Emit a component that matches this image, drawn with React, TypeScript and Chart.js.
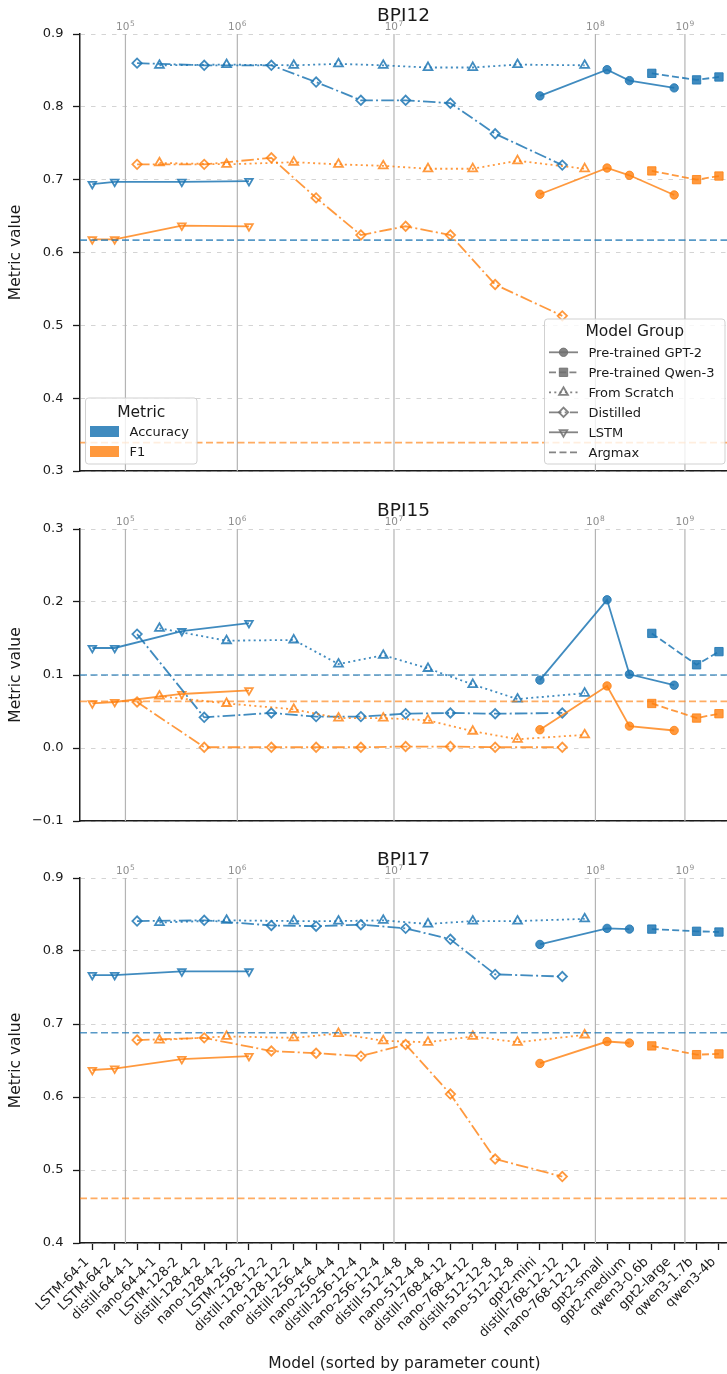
import React, { useEffect, useRef } from 'react';
import { Chart, registerables } from 'chart.js';

Chart.register(...registerables);

const FONT = '"DejaVu Sans", "Liberation Sans", sans-serif';

// ---------------- categories ----------------
const MODELS = [
  'LSTM-64-1', 'LSTM-64-2', 'distill-64-4-1', 'nano-64-4-1', 'LSTM-128-2', 'distill-128-4-2',
  'nano-128-4-2', 'LSTM-256-2', 'distill-128-12-2', 'nano-128-12-2', 'distill-256-4-4',
  'nano-256-4-4', 'distill-256-12-4', 'nano-256-12-4', 'distill-512-4-8', 'nano-512-4-8',
  'distill-768-4-12', 'nano-768-4-12', 'distill-512-12-8', 'nano-512-12-8', 'gpt2-mini',
  'distill-768-12-12', 'nano-768-12-12', 'gpt2-small', 'gpt2-medium', 'qwen3-0.6b',
  'gpt2-large', 'qwen3-1.7b', 'qwen3-4b',
];

const GPT2_MODELS = ['gpt2-mini', 'gpt2-small', 'gpt2-medium', 'gpt2-large'];
const QWEN_MODELS = ['qwen3-0.6b', 'qwen3-1.7b', 'qwen3-4b'];
const SCRATCH_MODELS = ['nano-64-4-1', 'nano-128-4-2', 'nano-128-12-2', 'nano-256-4-4', 'nano-256-12-4',
  'nano-512-4-8', 'nano-768-4-12', 'nano-512-12-8', 'nano-768-12-12'];
const DISTILL_MODELS = ['distill-64-4-1', 'distill-128-4-2', 'distill-128-12-2', 'distill-256-4-4',
  'distill-256-12-4', 'distill-512-4-8', 'distill-768-4-12', 'distill-512-12-8', 'distill-768-12-12'];
const LSTM_MODELS = ['LSTM-64-1', 'LSTM-64-2', 'LSTM-128-2', 'LSTM-256-2'];

// ---------------- BPI12 ----------------
const BPI12_GPT2_ACC = [0.815, 0.851, 0.836, 0.826];
const BPI12_GPT2_F1 = [0.680, 0.716, 0.706, 0.679];
const BPI12_QWEN_ACC = [0.846, 0.837, 0.841];
const BPI12_QWEN_F1 = [0.712, 0.700, 0.705];
const BPI12_SCRATCH_ACC = [0.857, 0.858, 0.857, 0.859, 0.857, 0.854, 0.854, 0.858, 0.857];
const BPI12_SCRATCH_F1 = [0.723, 0.721, 0.724, 0.721, 0.719, 0.715, 0.715, 0.726, 0.715];
const BPI12_DISTILL_ACC = [0.860, 0.857, 0.857, 0.834, 0.809, 0.809, 0.805, 0.763, 0.720];
const BPI12_DISTILL_F1 = [0.721, 0.721, 0.730, 0.675, 0.624, 0.636, 0.624, 0.556, 0.513];
const BPI12_LSTM_ACC = [0.694, 0.697, 0.697, 0.698];
const BPI12_LSTM_F1 = [0.618, 0.618, 0.637, 0.636];
const BPI12_ARGMAX = [0.617, 0.339];
const BPI12_Y_TICKS = [0.3, 0.4, 0.5, 0.6, 0.7, 0.8, 0.9];

// ---------------- BPI15 ----------------
const BPI15_GPT2_ACC = [0.093, 0.203, 0.101, 0.086];
const BPI15_GPT2_F1 = [0.025, 0.085, 0.030, 0.024];
const BPI15_QWEN_ACC = [0.157, 0.114, 0.132];
const BPI15_QWEN_F1 = [0.061, 0.041, 0.047];
const BPI15_SCRATCH_ACC = [0.164, 0.147, 0.148, 0.115, 0.127, 0.109, 0.087, 0.067, 0.075];
const BPI15_SCRATCH_F1 = [0.071, 0.061, 0.053, 0.041, 0.041, 0.038, 0.023, 0.012, 0.018];
const BPI15_DISTILL_ACC = [0.156, 0.042, 0.048, 0.043, 0.043, 0.047, 0.048, 0.047, 0.048];
const BPI15_DISTILL_F1 = [0.063, 0.001, 0.001, 0.001, 0.001, 0.002, 0.002, 0.001, 0.001];
const BPI15_LSTM_ACC = [0.137, 0.137, 0.160, 0.171];
const BPI15_LSTM_F1 = [0.061, 0.063, 0.074, 0.079];
const BPI15_ARGMAX = [0.100, 0.064];
const BPI15_Y_TICKS = [-0.1, 0.0, 0.1, 0.2, 0.3];

// ---------------- BPI17 ----------------
const BPI17_GPT2_ACC = [0.809, 0.831, 0.830, null];
const BPI17_GPT2_F1 = [0.646, 0.676, 0.674, null];
const BPI17_QWEN_ACC = [0.830, 0.827, 0.826];
const BPI17_QWEN_F1 = [0.670, 0.658, 0.659];
const BPI17_SCRATCH_ACC = [0.839, 0.842, 0.841, 0.841, 0.842, 0.837, 0.841, 0.841, 0.844];
const BPI17_SCRATCH_F1 = [0.678, 0.683, 0.681, 0.687, 0.677, 0.675, 0.683, 0.675, 0.685];
const BPI17_DISTILL_ACC = [0.841, 0.842, 0.835, 0.834, 0.836, 0.831, 0.816, 0.768, 0.765];
const BPI17_DISTILL_F1 = [0.678, 0.681, 0.663, 0.660, 0.656, 0.672, 0.604, 0.515, 0.491];
const BPI17_LSTM_ACC = [0.767, 0.767, 0.772, 0.772];
const BPI17_LSTM_F1 = [0.637, 0.639, 0.652, 0.656];
const BPI17_ARGMAX = [0.688, 0.461];
const BPI17_Y_TICKS = [0.4, 0.5, 0.6, 0.7, 0.8, 0.9];

// ---------------- secondary (parameter count) axis ----------------
const DECADE_EXPONENTS = ['5', '6', '7', '8', '9'];
const DECADE_POSITIONS = [1.48, 6.48, 13.48, 22.48, 26.48];

const METRIC_LABELS = ['Accuracy', 'F1'];
const GROUP_LABELS = ['Pre-trained GPT-2', 'Pre-trained Qwen-3', 'From Scratch', 'Distilled', 'LSTM', 'Argmax'];

const X_MIN = -0.55;
const X_MAX = 28.36;

const METRIC_COLORS = ['rgba(31,119,180,0.85)', 'rgba(255,127,14,0.8)'];
const ARGMAX_COLORS = ['rgba(31,119,180,0.75)', 'rgba(255,127,14,0.65)'];
const LEGEND_GRAY = 'rgba(110,110,110,0.85)';
const TEXT = '#1a1a1a';

type Style = { point: string; radius: number; filled: boolean; dash: number[]; rotation: number };

const GROUP_KEYS = ['gpt2', 'qwen', 'scratch', 'distill', 'lstm'];
const GROUP_STYLES: Record<string, Style> = {
  gpt2: { point: 'circle', radius: 4.2, filled: true, dash: [], rotation: 0 },
  qwen: { point: 'rect', radius: 5.9, filled: true, dash: [7, 3.2], rotation: 0 },
  scratch: { point: 'triangle', radius: 5.1, filled: false, dash: [2, 3.3], rotation: 0 },
  distill: { point: 'rectRot', radius: 4.7, filled: false, dash: [12.5, 3.2, 2, 3.2], rotation: 0 },
  lstm: { point: 'triangle', radius: 4.4, filled: false, dash: [], rotation: 180 },
};
const ARGMAX_DASH = [7, 3.5];
const GROUP_MODELS: Record<string, string[]> = {
  gpt2: GPT2_MODELS, qwen: QWEN_MODELS, scratch: SCRATCH_MODELS, distill: DISTILL_MODELS, lstm: LSTM_MODELS,
};

type PanelData = Record<string, (number | null)[][]> & { argmax: number[] };

const BPI12_DATA = {
  gpt2: [BPI12_GPT2_ACC, BPI12_GPT2_F1], qwen: [BPI12_QWEN_ACC, BPI12_QWEN_F1],
  scratch: [BPI12_SCRATCH_ACC, BPI12_SCRATCH_F1], distill: [BPI12_DISTILL_ACC, BPI12_DISTILL_F1],
  lstm: [BPI12_LSTM_ACC, BPI12_LSTM_F1], argmax: BPI12_ARGMAX,
} as any as PanelData;
const BPI15_DATA = {
  gpt2: [BPI15_GPT2_ACC, BPI15_GPT2_F1], qwen: [BPI15_QWEN_ACC, BPI15_QWEN_F1],
  scratch: [BPI15_SCRATCH_ACC, BPI15_SCRATCH_F1], distill: [BPI15_DISTILL_ACC, BPI15_DISTILL_F1],
  lstm: [BPI15_LSTM_ACC, BPI15_LSTM_F1], argmax: BPI15_ARGMAX,
} as any as PanelData;
const BPI17_DATA = {
  gpt2: [BPI17_GPT2_ACC, BPI17_GPT2_F1], qwen: [BPI17_QWEN_ACC, BPI17_QWEN_F1],
  scratch: [BPI17_SCRATCH_ACC, BPI17_SCRATCH_F1], distill: [BPI17_DISTILL_ACC, BPI17_DISTILL_F1],
  lstm: [BPI17_LSTM_ACC, BPI17_LSTM_F1], argmax: BPI17_ARGMAX,
} as any as PanelData;

function buildDatasets(d: PanelData) {
  const ds: any[] = [];
  [0, 1].forEach((mi) => {
    ds.push({
      label: 'argmax-' + mi,
      data: [{ x: X_MIN, y: d.argmax[mi] }, { x: X_MAX, y: d.argmax[mi] }],
      borderColor: ARGMAX_COLORS[mi],
      borderWidth: 1.7,
      borderDash: ARGMAX_DASH,
      pointRadius: 0,
      fill: false,
    });
  });
  GROUP_KEYS.forEach((key) => {
    const st = GROUP_STYLES[key];
    const models = GROUP_MODELS[key];
    [0, 1].forEach((mi) => {
      const vals = d[key][mi];
      const color = METRIC_COLORS[mi];
      ds.push({
        label: key + '-' + mi,
        data: models.map((name, i) => ({ x: MODELS.indexOf(name), y: vals[i] ?? null })),
        borderColor: color,
        backgroundColor: color,
        borderWidth: 1.8,
        borderDash: st.dash,
        pointStyle: st.point,
        pointRadius: st.radius,
        pointRotation: st.rotation,
        pointBackgroundColor: st.filled ? color : 'rgba(0,0,0,0)',
        pointBorderColor: color,
        pointBorderWidth: st.filled ? 1 : 1.8,
        fill: false,
        tension: 0,
        spanGaps: false,
      });
    });
  });
  return ds;
}

function drawMarker(ctx: CanvasRenderingContext2D, st: Style, x: number, y: number, color: string) {
  ctx.save();
  ctx.setLineDash([]);
  ctx.strokeStyle = color;
  ctx.fillStyle = color;
  ctx.lineWidth = st.filled ? 1 : 1.8;
  const r = st.radius;
  ctx.beginPath();
  if (st.point === 'circle') {
    ctx.arc(x, y, r, 0, Math.PI * 2);
  } else if (st.point === 'rect') {
    const s = r * Math.SQRT1_2;
    ctx.rect(x - s, y - s, 2 * s, 2 * s);
  } else if (st.point === 'rectRot') {
    ctx.moveTo(x - r, y);
    ctx.lineTo(x, y - r);
    ctx.lineTo(x + r, y);
    ctx.lineTo(x, y + r);
    ctx.closePath();
  } else {
    let a = (st.rotation * Math.PI) / 180;
    for (let k = 0; k < 3; k++) {
      const px = x + Math.sin(a) * r;
      const py = y - Math.cos(a) * r;
      if (k === 0) ctx.moveTo(px, py); else ctx.lineTo(px, py);
      a += (2 * Math.PI) / 3;
    }
    ctx.closePath();
  }
  if (st.filled) ctx.fill();
  ctx.stroke();
  ctx.restore();
}

function roundRect(ctx: CanvasRenderingContext2D, x: number, y: number, w: number, h: number, r: number) {
  ctx.beginPath();
  ctx.moveTo(x + r, y);
  ctx.lineTo(x + w - r, y);
  ctx.quadraticCurveTo(x + w, y, x + w, y + r);
  ctx.lineTo(x + w, y + h - r);
  ctx.quadraticCurveTo(x + w, y + h, x + w - r, y + h);
  ctx.lineTo(x + r, y + h);
  ctx.quadraticCurveTo(x, y + h, x, y + h - r);
  ctx.lineTo(x, y + r);
  ctx.quadraticCurveTo(x, y, x + r, y);
  ctx.closePath();
}

function drawLegendBox(ctx: CanvasRenderingContext2D, x: number, y: number, w: number, h: number) {
  ctx.save();
  roundRect(ctx, x, y, w, h, 3);
  ctx.fillStyle = 'rgba(255,255,255,0.8)';
  ctx.fill();
  ctx.strokeStyle = 'rgba(204,204,204,0.9)';
  ctx.lineWidth = 1;
  ctx.stroke();
  ctx.restore();
}

const overlayPlugin = {
  id: 'overlay',
  beforeDatasetsDraw(chart: any) {
    const { ctx, chartArea, scales } = chart;
    const xs = scales.x;
    ctx.save();
    ctx.strokeStyle = '#b4b4b4';
    ctx.lineWidth = 1.2;
    ctx.setLineDash([]);
    DECADE_POSITIONS.forEach((p) => {
      const px = xs.getPixelForValue(p);
      ctx.beginPath();
      ctx.moveTo(px, chartArea.top);
      ctx.lineTo(px, chartArea.bottom);
      ctx.stroke();
    });
    ctx.restore();
  },
  afterDraw(chart: any, _args: any, opts: any) {
    const { ctx, chartArea, scales } = chart;
    const xs = scales.x;
    ctx.save();
    // decade labels
    ctx.fillStyle = '#8f8f8f';
    ctx.textAlign = 'left';
    ctx.textBaseline = 'alphabetic';
    DECADE_EXPONENTS.forEach((e, i) => {
      const px = xs.getPixelForValue(DECADE_POSITIONS[i]);
      ctx.font = '10.5px ' + FONT;
      const w1 = ctx.measureText('10').width;
      ctx.font = '7.5px ' + FONT;
      const w2 = ctx.measureText(e).width;
      const x0 = px - (w1 + w2 + 0.5) / 2;
      const base = chartArea.top - 3.6;
      ctx.font = '10.5px ' + FONT;
      ctx.fillText('10', x0, base);
      ctx.font = '7.5px ' + FONT;
      ctx.fillText(e, x0 + w1 + 0.5, base - 4.2);
    });
    // title
    ctx.fillStyle = TEXT;
    ctx.font = '18.5px ' + FONT;
    ctx.textAlign = 'center';
    ctx.fillText(opts.title, (chartArea.left + chartArea.right) / 2, chartArea.top - 13);
    // y label
    ctx.save();
    ctx.translate(19.5, (chartArea.top + chartArea.bottom) / 2);
    ctx.rotate(-Math.PI / 2);
    ctx.font = '15.5px ' + FONT;
    ctx.textAlign = 'center';
    ctx.fillText('Metric value', 0, 0);
    ctx.restore();
    // x label
    if (opts.bottomAxis) {
      ctx.font = '15.5px ' + FONT;
      ctx.textAlign = 'center';
      ctx.fillText('Model (sorted by parameter count)', (chartArea.left + chartArea.right) / 2 + 1, chart.height - 6);
    }
    // legends
    if (opts.legend) {
      // Metric legend
      const mx = chartArea.left + 5.5;
      const my = chartArea.bottom - 73;
      const mw = 111.5;
      const mh = 66;
      drawLegendBox(ctx, mx, my, mw, mh);
      ctx.fillStyle = TEXT;
      ctx.font = '15.5px ' + FONT;
      ctx.textAlign = 'center';
      ctx.fillText('Metric', mx + mw / 2, my + 19);
      ctx.textAlign = 'left';
      ctx.font = '13px ' + FONT;
      METRIC_LABELS.forEach((lab, i) => {
        const cy = my + 33.5 + 20 * i;
        ctx.fillStyle = METRIC_COLORS[i];
        ctx.fillRect(mx + 4.5, cy - 5.5, 29, 11);
        ctx.fillStyle = TEXT;
        ctx.fillText(lab, mx + 44, cy + 4.7);
      });
      // Model group legend
      const gw = 180.5;
      const gh = 145;
      const gx = chartArea.right - 2 - gw;
      const gy = chartArea.bottom - 152;
      drawLegendBox(ctx, gx, gy, gw, gh);
      ctx.fillStyle = TEXT;
      ctx.font = '15.5px ' + FONT;
      ctx.textAlign = 'center';
      ctx.fillText('Model Group', gx + gw / 2, gy + 17);
      ctx.textAlign = 'left';
      GROUP_LABELS.forEach((lab, i) => {
        const cy = gy + 33.3 + 20 * i;
        const key = GROUP_KEYS[i];
        const st = key ? GROUP_STYLES[key] : null;
        ctx.save();
        ctx.strokeStyle = LEGEND_GRAY;
        ctx.lineWidth = 1.8;
        ctx.setLineDash(st ? st.dash : ARGMAX_DASH);
        ctx.beginPath();
        ctx.moveTo(gx + 4.5, cy);
        ctx.lineTo(gx + 33.5, cy);
        ctx.stroke();
        ctx.restore();
        if (st) drawMarker(ctx, st, gx + 19, cy, LEGEND_GRAY);
        ctx.fillStyle = TEXT;
        ctx.font = '13px ' + FONT;
        ctx.fillText(lab, gx + 44, cy + 4.7);
      });
    }
    ctx.restore();
  },
};

function fmtTick(v: number) {
  if (Math.abs(v) < 1e-9) return '0.0';
  const s = Math.abs(v).toFixed(1);
  return v < 0 ? '\u2212' + s : s;
}

type PanelProps = {
  title: string;
  data: PanelData;
  yTicks: number[];
  top: number;
  height: number;
  padTop: number;
  axisH: number;
  bottomAxis: boolean;
  legend: boolean;
};

function Panel(props: PanelProps) {
  const ref = useRef<HTMLCanvasElement | null>(null);
  useEffect(() => {
    const { title, data, yTicks, padTop, axisH, bottomAxis, legend } = props;
    const chart = new Chart(ref.current as HTMLCanvasElement, {
      type: 'line',
      data: { datasets: buildDatasets(data) },
      options: {
        responsive: false,
        animation: false,
        devicePixelRatio: 1,
        events: [],
        layout: { padding: { top: padTop, left: 0, right: 0, bottom: 0 }, autoPadding: false },
        plugins: {
          legend: { display: false },
          tooltip: { enabled: false },
          overlay: { title, bottomAxis, legend },
        } as any,
        scales: {
          x: {
            type: 'linear',
            min: X_MIN,
            max: X_MAX,
            offset: false,
            afterBuildTicks: (s: any) => {
              s.ticks = MODELS.map((_, i) => ({ value: i }));
            },
            afterFit: (s: any) => {
              s.height = axisH;
              s.paddingLeft = 0;
              s.paddingRight = 0;
            },
            grid: {
              display: bottomAxis,
              drawOnChartArea: false,
              drawTicks: true,
              tickLength: 7,
              tickColor: '#1a1a1a',
              tickWidth: 1.3,
            },
            border: { display: true, color: '#1a1a1a', width: 1.5 },
            ticks: {
              display: bottomAxis,
              autoSkip: false,
              minRotation: 45,
              maxRotation: 45,
              padding: 4.5,
              labelOffset: -5.3,
              color: TEXT,
              font: { family: FONT, size: 13 },
              callback: (v: any) => MODELS[v as number] ?? '',
            },
          } as any,
          y: {
            type: 'linear',
            min: yTicks[0],
            max: yTicks[yTicks.length - 1],
            afterBuildTicks: (s: any) => {
              s.ticks = yTicks.map((v) => ({ value: v }));
            },
            afterFit: (s: any) => {
              s.width = 80;
              s.paddingTop = 0;
              s.paddingBottom = 0;
            },
            ticks: {
              padding: 9.5,
              color: TEXT,
              font: { family: FONT, size: 13 },
              callback: (v: any) => fmtTick(v as number),
            },
            grid: {
              color: '#d4d4d4',
              lineWidth: 1,
              drawTicks: true,
              tickLength: 7,
              tickColor: '#1a1a1a',
              tickWidth: 1.3,
              tickBorderDash: [],
            },
            border: { display: true, color: '#1a1a1a', width: 1.5, dash: [4.5, 6] },
          } as any,
        },
      },
      plugins: [overlayPlugin as any],
    });
    return () => chart.destroy();
  }, []);
  return (
    <canvas
      ref={ref}
      width={727}
      height={props.height}
      style={{ position: 'absolute', left: 0, top: props.top, width: 727, height: props.height }}
    />
  );
}

export default function App() {
  return (
    <div style={{ position: 'absolute', left: 0, top: 0, width: 727, height: 1374, background: '#fff' }}>
      <Panel title="BPI12" data={BPI12_DATA} yTicks={BPI12_Y_TICKS} top={0} height={480} padTop={34} axisH={9} bottomAxis={false} legend={true} />
      <Panel title="BPI15" data={BPI15_DATA} yTicks={BPI15_Y_TICKS} top={490} height={340} padTop={39} axisH={9} bottomAxis={false} legend={false} />
      <Panel title="BPI17" data={BPI17_DATA} yTicks={BPI17_Y_TICKS} top={840} height={534} padTop={38} axisH={131} bottomAxis={true} legend={false} />
    </div>
  );
}
